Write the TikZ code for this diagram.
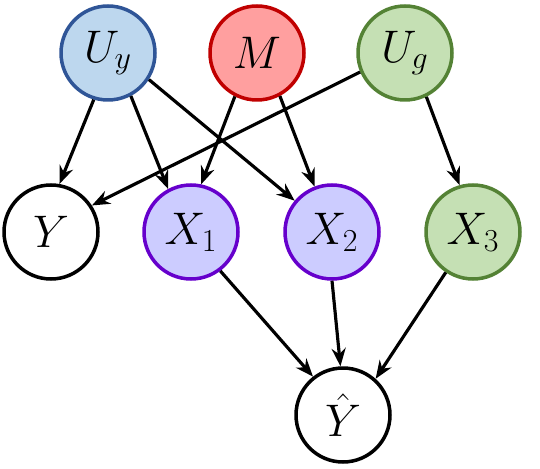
\documentclass[tikz,border=0pt]{standalone}
\usepackage{fix-cm}
\usetikzlibrary{arrows.meta}
\definecolor{uyfill}{RGB}{189,215,238}
\definecolor{uyline}{RGB}{47,85,151}
\definecolor{mfill}{RGB}{255,159,159}
\definecolor{mline}{RGB}{192,0,0}
\definecolor{ugfill}{RGB}{197,224,180}
\definecolor{ugline}{RGB}{84,130,53}
\definecolor{xfill}{RGB}{204,204,255}
\definecolor{xline}{RGB}{102,0,204}
\tikzset{
  var/.style={circle, draw=#1, line width=2pt, minimum size=1.88cm,
              inner sep=0pt, font=\fontsize{26}{30}\selectfont},
  var/.default=black,
  sig/.style={-{Stealth[length=0.36cm, width=0.28cm]}, line width=1.8pt},
}

\begin{document}
\begin{tikzpicture}[x=0.02cm, y=-0.02cm]
  \useasboundingbox (0,0) rectangle (540,469);
  \node[var=uyline, fill=uyfill] (uy) at (108,53) {$U_y$};
  \node[var=mline,  fill=mfill]  (m)  at (257,53) {$M$};
  \node[var=ugline, fill=ugfill] (ug) at (405,53) {$U_g$};
  \node[var, fill=white]         (y)  at (51,232)  {$Y$};
  \node[var=xline,  fill=xfill]  (x1) at (191,232) {$X_1$};
  \node[var=xline,  fill=xfill]  (x2) at (332,232) {$X_2$};
  \node[var=ugline, fill=ugfill] (x3) at (473,232) {$X_3$};
  \node[var, fill=white]         (yh) at (343,415) {$\hat{Y}$};
  \draw[sig] (uy.253) -- (y.80);
  \draw[sig] (uy.298) -- (x1.118);
  \draw[sig] (uy.327) -- (x2.140);
  \draw[sig] (m.243)  -- (x1.78);
  \draw[sig] (m.298)  -- (x2.111);
  \draw[sig] (ug.203) -- (y.33);
  \draw[sig] (ug.296) -- (x3.106);
  \draw[sig] (x1.307) -- (yh.128);
  \draw[sig] (x2.270) -- (yh.93);
  \draw[sig] (x3.236) -- (yh.48);
\end{tikzpicture}
\end{document}
